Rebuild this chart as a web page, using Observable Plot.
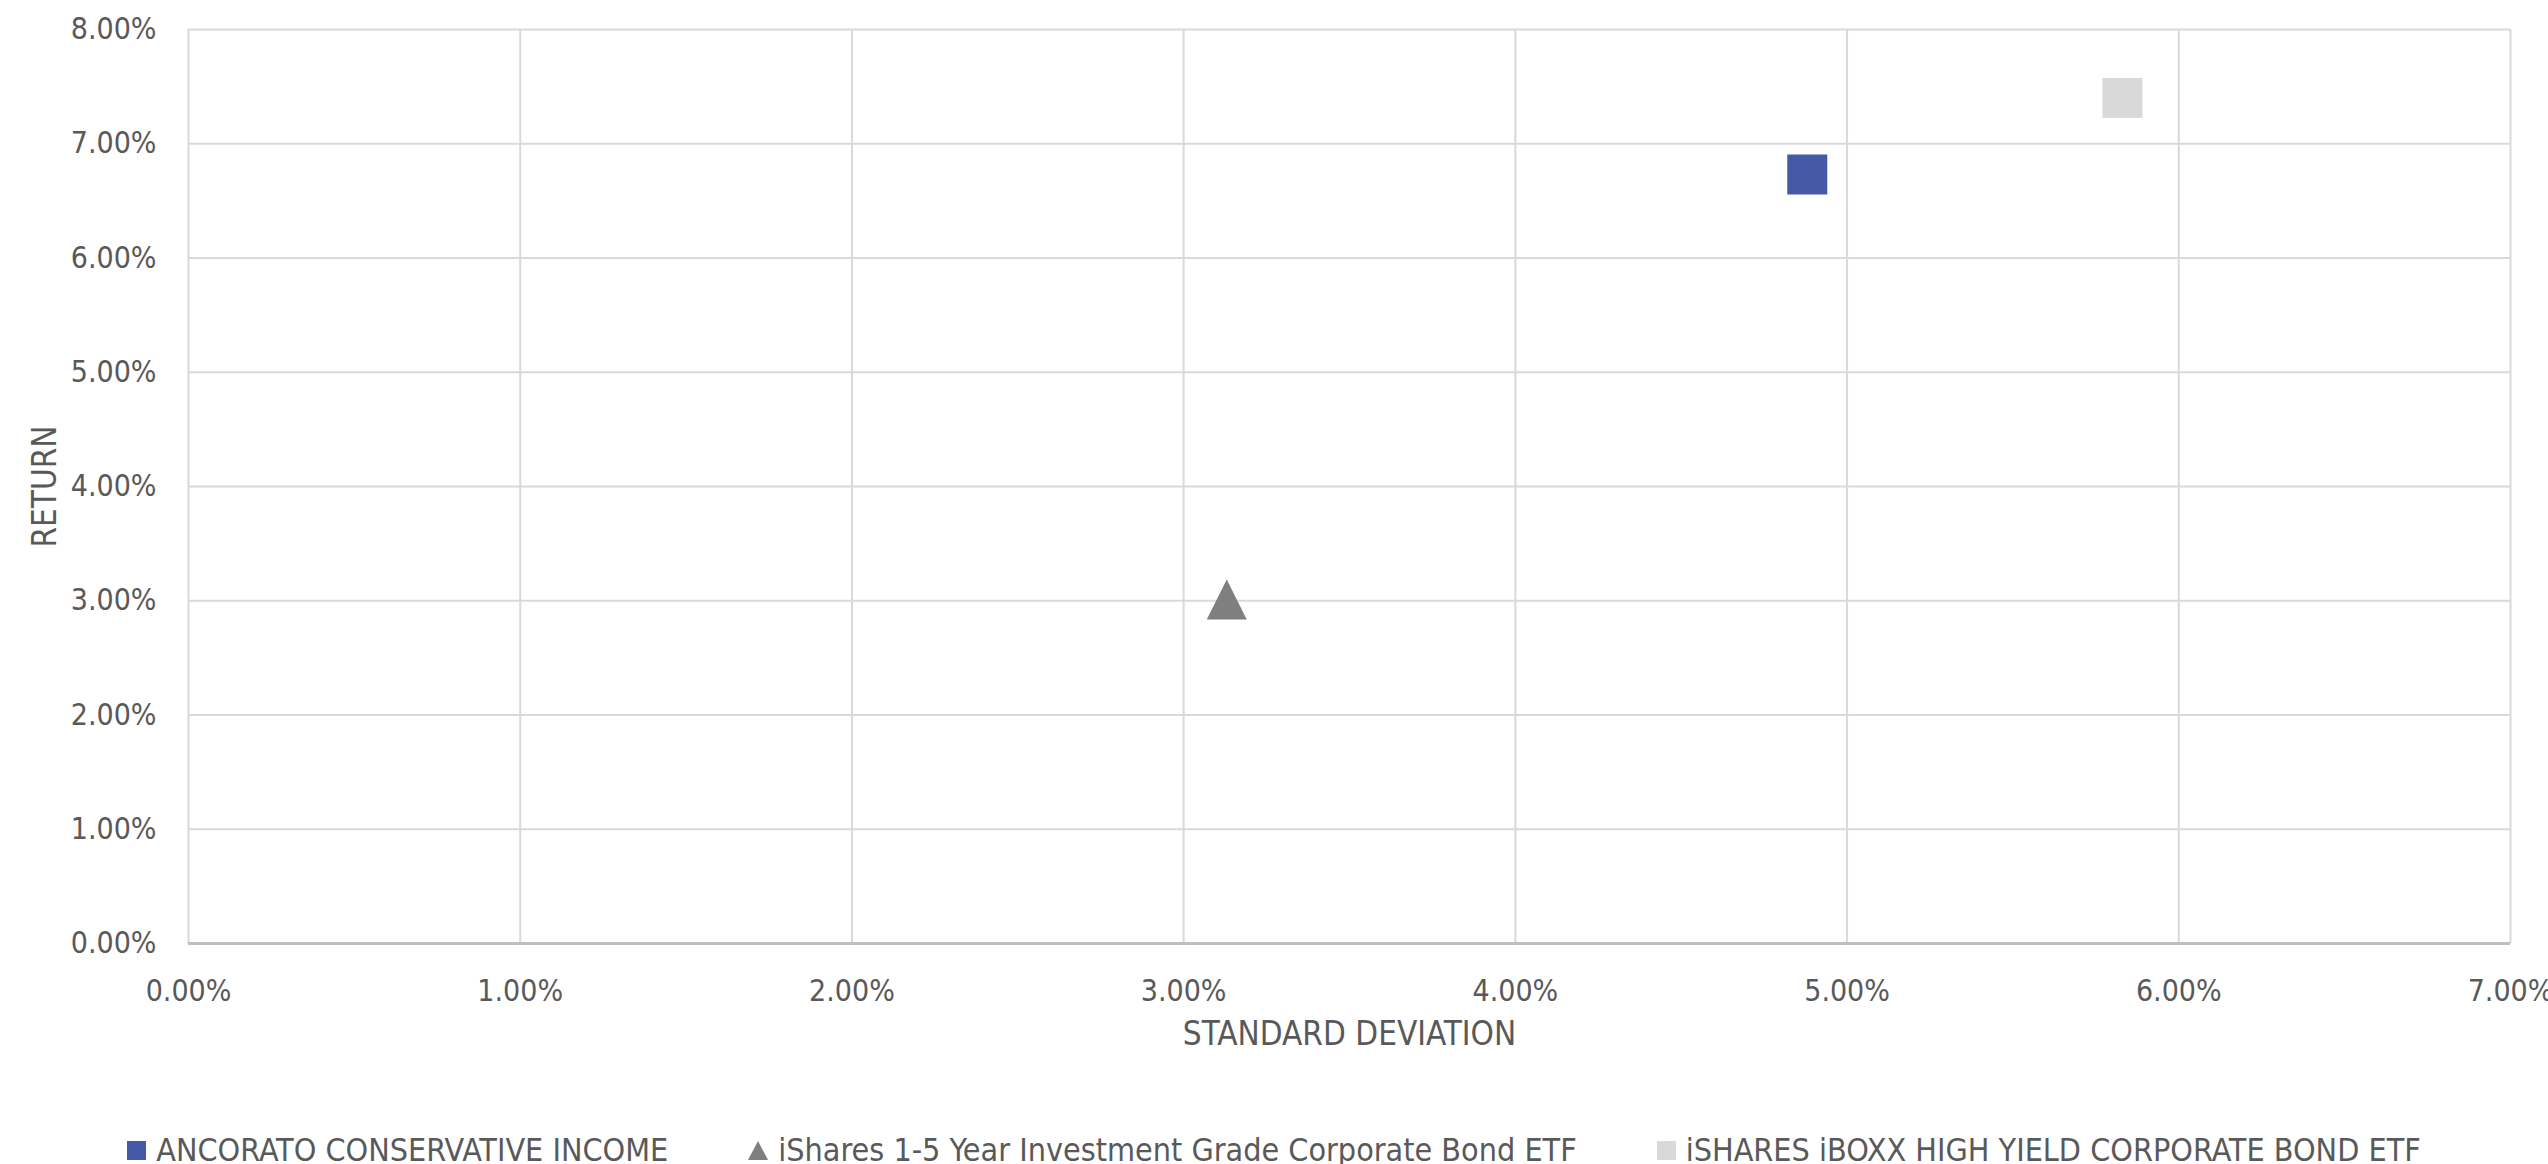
<!DOCTYPE html>
<html>
<head>
<meta charset="utf-8">
<script src="https://cdn.jsdelivr.net/npm/d3@7"></script>
<script src="https://cdn.jsdelivr.net/npm/@observablehq/plot@0.6"></script>
<style>
  html, body { margin: 0; padding: 0; background: #ffffff; }
  body { width: 2548px; font-family: "DejaVu Sans Condensed", "DejaVu Sans", sans-serif; font-stretch: condensed; color: #595959; }
  #legend { display: flex; justify-content: center; align-items: center; gap: 80px; height: 40px; margin-top: 30px; font-size: 32px; }
  .item { display: flex; align-items: center; gap: 10px; white-space: nowrap; }
  .sw { display: inline-block; width: 19px; height: 19px; }
  .tri { width: 0; height: 0; border-left: 10px solid transparent; border-right: 10px solid transparent; border-bottom: 19px solid #7f7f7f; }
</style>
</head>
<body>
<div id="chart"></div>
<div id="legend"></div>
<script>
const seriesNames = [
  "ANCORATO CONSERVATIVE INCOME",
  "iShares 1-5 Year Investment Grade Corporate Bond ETF",
  "iSHARES iBOXX HIGH YIELD CORPORATE BOND ETF"
];
const stdDevValues = [0.0488, 0.0313, 0.0583];
const returnValues = [0.0673, 0.0301, 0.0740];
const seriesColors = ["#4459a7", "#7f7f7f", "#d9d9d9"];
const xTicks = [0, 0.01, 0.02, 0.03, 0.04, 0.05, 0.06, 0.07];
const yTicks = [0, 0.01, 0.02, 0.03, 0.04, 0.05, 0.06, 0.07, 0.08];
const xTitle = "STANDARD DEVIATION";
const yTitle = "RETURN";

const data = seriesNames.map((name, i) => ({ name, sd: stdDevValues[i], ret: returnValues[i] }));

const triangle = {
  draw(context, size) {
    const h = Math.sqrt(size) / 2;
    context.moveTo(0, -h);
    context.lineTo(h, h);
    context.lineTo(-h, h);
    context.closePath();
  }
};

const fmt = d3.format(".2%");
const fontFamily = '"DejaVu Sans Condensed", "DejaVu Sans", sans-serif';

const chart = Plot.plot({
  width: 2548,
  height: 1100,
  marginLeft: 188,
  marginRight: 38,
  marginTop: 29,
  marginBottom: 157,
  style: { fontFamily, fontSize: "30px", color: "#595959", background: "#ffffff" },
  x: { domain: [0, 0.07], ticks: xTicks, tickFormat: fmt, label: null },
  y: { domain: [0, 0.08], ticks: yTicks, tickFormat: fmt, label: null },
  symbol: { domain: seriesNames, range: [d3.symbolSquare, triangle, d3.symbolSquare] },
  color: { domain: seriesNames, range: seriesColors },
  marks: [
    Plot.gridX(xTicks, { stroke: "#d9d9d9", strokeOpacity: 1, strokeWidth: 2 }),
    Plot.gridY(yTicks, { stroke: "#d9d9d9", strokeOpacity: 1, strokeWidth: 2 }),
    Plot.ruleY([0], { stroke: "#bfbfbf", strokeWidth: 3 }),
    Plot.axisX(xTicks, { tickSize: 0, tickPadding: 36, tickFormat: fmt, fill: "#595959", fontSize: 30, label: null }),
    Plot.axisY(yTicks, { tickSize: 0, tickPadding: 32, tickFormat: fmt, fill: "#595959", fontSize: 30, label: null }),
    Plot.dot(data, { x: "sd", y: "ret", symbol: "name", fill: "name", r: 40 / Math.sqrt(Math.PI) }),
    Plot.text([xTitle], { frameAnchor: "bottom", lineAnchor: "middle", textAnchor: "middle", dy: 91, fill: "#595959", fontSize: 33 }),
    Plot.text([yTitle], { frameAnchor: "left", lineAnchor: "middle", textAnchor: "middle", dx: -143, rotate: -90, fill: "#595959", fontSize: 33 })
  ]
});
document.getElementById("chart").appendChild(chart);

const legend = document.getElementById("legend");
seriesNames.forEach((name, i) => {
  const item = document.createElement("div");
  item.className = "item";
  const sw = document.createElement("span");
  if (i === 1) { sw.className = "tri"; sw.style.borderBottomColor = seriesColors[i]; }
  else { sw.className = "sw"; sw.style.background = seriesColors[i]; }
  const label = document.createElement("span");
  label.textContent = name;
  item.appendChild(sw);
  item.appendChild(label);
  legend.appendChild(item);
});
</script>
</body>
</html>
